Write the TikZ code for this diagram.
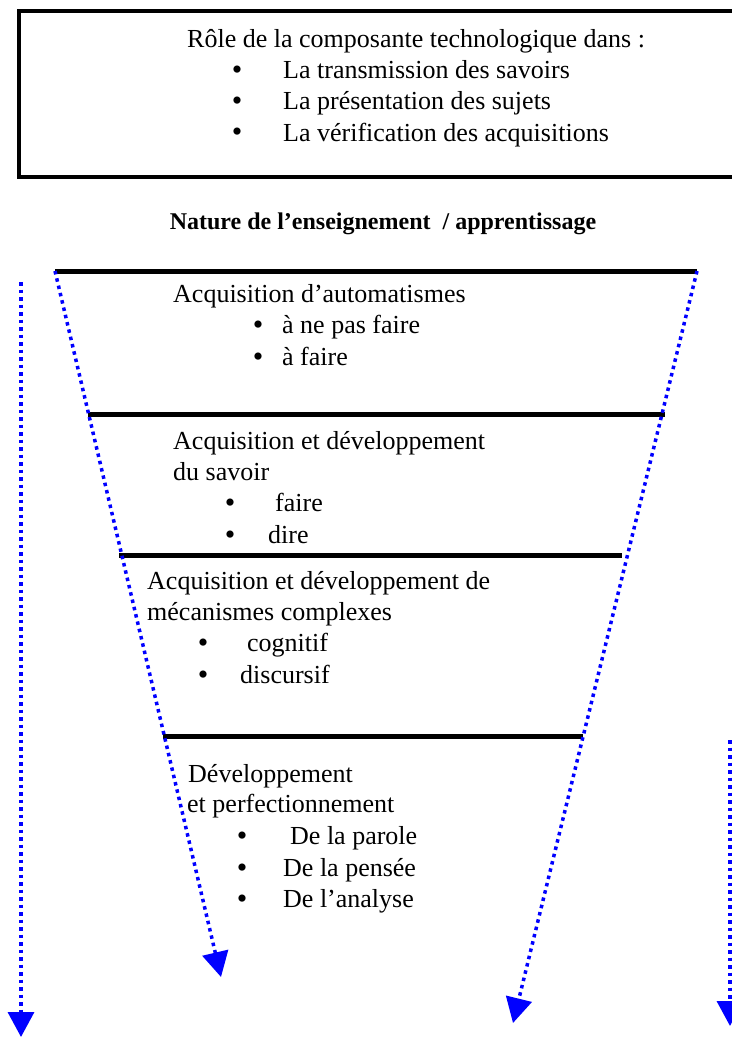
\documentclass[tikz,border=0pt]{standalone}
\usepackage{fontspec}
\setmainfont{Liberation Serif}
\usetikzlibrary{arrows.meta}
\tikzset{
   bar/.style ={
      -, line width=5pt, color=black,
   },
   flow/.style ={
      -{Triangle[length=25pt,width=26pt]}, line width=3.5pt, color=blue,
      dash pattern=on 3.5pt off 4pt,
   },
   txt/.style ={
      anchor=base west, inner sep=0pt, font=\fontsize{26}{31}\selectfont,
   },
   dot/.style ={
      anchor=base, inner sep=0pt, yshift=-1pt, font=\fontsize{30}{31}\selectfont,
   },
}

\begin{document}
\begin{tikzpicture}[x=1pt,y=-1pt]
   \useasboundingbox (0,0) rectangle (731,1062);

      \node[
         rectangle,
         draw,
         line width=4pt,
         anchor=north west,
         minimum width=760pt,
         minimum height=166pt,
      ] (role) at (17,9) {};

      \node[txt] (roletext) at (187,48) {Rôle de la composante technologique dans :};
      \node[dot] (rdot1) at (237,79)  {•};
      \node[dot] (rdot2) at (237,110) {•};
      \node[dot] (rdot3) at (237,141) {•};
      \node[txt] (role1) at (283,79)  {La transmission des savoirs};
      \node[txt] (role2) at (283,110) {La présentation des sujets};
      \node[txt] (role3) at (283,141) {La vérification des acquisitions};

      \node[
         anchor=base,
         inner sep=0pt,
         font=\bfseries\fontsize{24}{29}\selectfont,
      ] (nature) at (383,229) {Nature de l’enseignement\ \ / apprentissage};

      \node[txt] (auto)   at (173,302) {Acquisition d’automatismes};
      \node[dot] (adot1)  at (258,333) {•};
      \node[dot] (adot2)  at (258,365) {•};
      \node[txt] (auto1)  at (282,333) {à ne pas faire};
      \node[txt] (auto2)  at (282,365) {à faire};

      \node[txt] (savoir)  at (173,449) {Acquisition et développement};
      \node[txt] (savoirb) at (173,480) {du savoir};
      \node[dot] (sdot1)   at (230,511) {•};
      \node[dot] (sdot2)   at (230,543) {•};
      \node[txt] (savoir1) at (275,511) {faire};
      \node[txt] (savoir2) at (268,543) {dire};

      \node[txt] (meca)  at (147,589) {Acquisition et développement de};
      \node[txt] (mecab) at (147,620) {mécanismes complexes};
      \node[dot] (mdot1) at (203,651) {•};
      \node[dot] (mdot2) at (203,683) {•};
      \node[txt] (meca1) at (247,651) {cognitif};
      \node[txt] (meca2) at (240,683) {discursif};

      \node[txt] (perf)  at (188,782) {Développement};
      \node[txt] (perfb) at (187,812) {et perfectionnement};
      \node[dot] (pdot1) at (242,844) {•};
      \node[dot] (pdot2) at (242,876) {•};
      \node[dot] (pdot3) at (242,907) {•};
      \node[txt] (perf1) at (290,844) {De la parole};
      \node[txt] (perf2) at (283,876) {De la pensée};
      \node[txt] (perf3) at (283,907) {De l’analyse};

      \coordinate (a1) at (55,271);  \coordinate (b1) at (697,271);
      \coordinate (a2) at (88,414);  \coordinate (b2) at (665,414);
      \coordinate (a3) at (119,555); \coordinate (b3) at (622,555);
      \coordinate (a4) at (163,736); \coordinate (b4) at (583,736);
      \coordinate (tipl) at (221,977);
      \coordinate (tipr) at (513,1023);
      \coordinate (outl) at (21,282);  \coordinate (outltip) at (21,1037);
      \coordinate (outr) at (730,740); \coordinate (outrtip) at (730,1026);

      \draw[bar] (a1) -- (b1);
      \draw[bar] (a2) -- (b2);
      \draw[bar] (a3) -- (b3);
      \draw[bar] (a4) -- (b4);

      \draw[flow] (a1) -- (tipl);
      \draw[flow] (b1) -- (tipr);
      \draw[flow] (outl) -- (outltip);
      \draw[flow] (outr) -- (outrtip);

\end{tikzpicture}
\end{document}
